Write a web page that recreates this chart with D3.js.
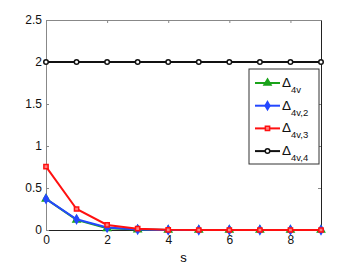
<!DOCTYPE html>
<html>
<head>
<meta charset="utf-8">
<script src="https://cdn.jsdelivr.net/npm/d3@7"></script>
<style>
  body { margin: 0; background: #fff; }
  text { font-family: "Liberation Sans", Arial, sans-serif; }
</style>
</head>
<body>
<svg id="chart" width="354" height="266"></svg>
<script>
// data
const sValues = [0, 1, 2, 3, 4, 5, 6, 7, 8, 9];
const delta4v = [0.37, 0.12, 0.02, 0.005, 0, 0, 0, 0, 0, 0];
const delta4v2 = [0.37, 0.127, 0.03, 0.006, 0, 0, 0, 0, 0, 0];
const delta4v3 = [0.755, 0.25, 0.06, 0.015, 0.002, 0, 0, 0, 0, 0];
const delta4v4 = [2, 2, 2, 2, 2, 2, 2, 2, 2, 2];
const xTicks = [0, 2, 4, 6, 8];
const yTicks = [0, 0.5, 1, 1.5, 2, 2.5];
const seriesNames = ['4v', '4v,2', '4v,3', '4v,4'];

const margin = { top: 20, right: 33, bottom: 36, left: 46 };
const width = 354, height = 266;
const chartWidth = width - margin.left - margin.right;
const chartHeight = height - margin.top - margin.bottom;

const svg = d3.select('#chart');
const g = svg.append('g').attr('transform', `translate(${margin.left}, ${margin.top})`);

const x = d3.scaleLinear().domain([0, 9]).range([0, chartWidth]);
const y = d3.scaleLinear().domain([0, 2.5]).range([chartHeight, 0]);

// axes, matlab style: ticks pointing inward, box all round
const fmt = d => d3.format('~g')(d);
const bottomAxis = g.append('g')
    .attr('transform', `translate(0, ${chartHeight})`)
    .call(d3.axisBottom(x).tickValues(xTicks).tickSizeInner(-3).tickSizeOuter(0).tickPadding(5).tickFormat(fmt));
g.append('g')
    .call(d3.axisTop(x).tickValues(xTicks).tickSizeInner(-3).tickSizeOuter(0).tickFormat(''));
g.append('g')
    .call(d3.axisLeft(y).tickValues(yTicks).tickSizeInner(-3).tickSizeOuter(0).tickPadding(4).tickFormat(fmt));
const rightAxis = g.append('g')
    .attr('transform', `translate(${chartWidth}, 0)`)
    .call(d3.axisRight(y).tickValues(yTicks).tickSizeInner(-3).tickSizeOuter(0).tickFormat(''));

g.selectAll('.domain').attr('stroke', '#888');
g.selectAll('.tick line').attr('stroke', '#888');
rightAxis.select('.domain').attr('stroke', '#222');
bottomAxis.select('.domain').attr('stroke', '#222');
g.selectAll('.tick text').attr('fill', '#111').style('font-size', '12px');

// x label
g.append('text')
    .attr('x', chartWidth / 2)
    .attr('y', chartHeight + 32)
    .style('text-anchor', 'middle')
    .style('font-size', '13px')
    .text('s');

const series = [
    { values: delta4v, color: '#1aa31a', symbol: d3.symbolTriangle, size: 22, fill: '#1aa31a' },
    { values: delta4v2, color: '#2447ff', symbol: d3.symbolDiamond, size: 20, fill: '#2447ff' },
    { values: delta4v3, color: '#ff1010', symbol: d3.symbolSquare, size: 18, fill: '#ff8080' },
    { values: delta4v4, color: '#111', symbol: d3.symbolCircle, size: 16, fill: '#fff' }
];

const line = d3.line()
    .x((d, i) => x(sValues[i]))
    .y(d => y(d));

series.forEach(s => {
    g.append('path')
        .datum(s.values)
        .attr('fill', 'none')
        .attr('stroke', s.color)
        .attr('stroke-width', 2)
        .attr('d', line);

    g.selectAll(null)
        .data(s.values)
        .enter()
        .append('path')
        .attr('transform', (d, i) => `translate(${x(sValues[i])}, ${y(d)})`)
        .attr('d', d3.symbol().type(s.symbol).size(s.size))
        .attr('fill', s.fill)
        .attr('stroke', s.color)
        .attr('stroke-width', 1.5);
});

// legend
const legend = g.append('g').attr('transform', `translate(${chartWidth - 72}, 49)`);
legend.append('rect')
    .attr('width', 70)
    .attr('height', 95)
    .attr('fill', '#fff')
    .attr('stroke', '#333')
    .attr('stroke-width', 1);

series.forEach((s, i) => {
    const row = legend.append('g').attr('transform', `translate(0, ${14 + i * 22.7})`);
    row.append('line')
        .attr('x1', 6).attr('x2', 31)
        .attr('stroke', s.color)
        .attr('stroke-width', 2);
    row.append('path')
        .attr('transform', 'translate(18.5, 0)')
        .attr('d', d3.symbol().type(s.symbol).size(s.size))
        .attr('fill', s.fill)
        .attr('stroke', s.color)
        .attr('stroke-width', 1.5);
    const t = row.append('text')
        .attr('x', 33)
        .attr('y', 4)
        .style('font-size', '13.5px')
        .attr('fill', '#111');
    t.append('tspan').text('Δ');
    t.append('tspan')
        .attr('dy', 6)
        .style('font-size', '9.5px')
        .text(seriesNames[i]);
});
</script>
</body>
</html>
